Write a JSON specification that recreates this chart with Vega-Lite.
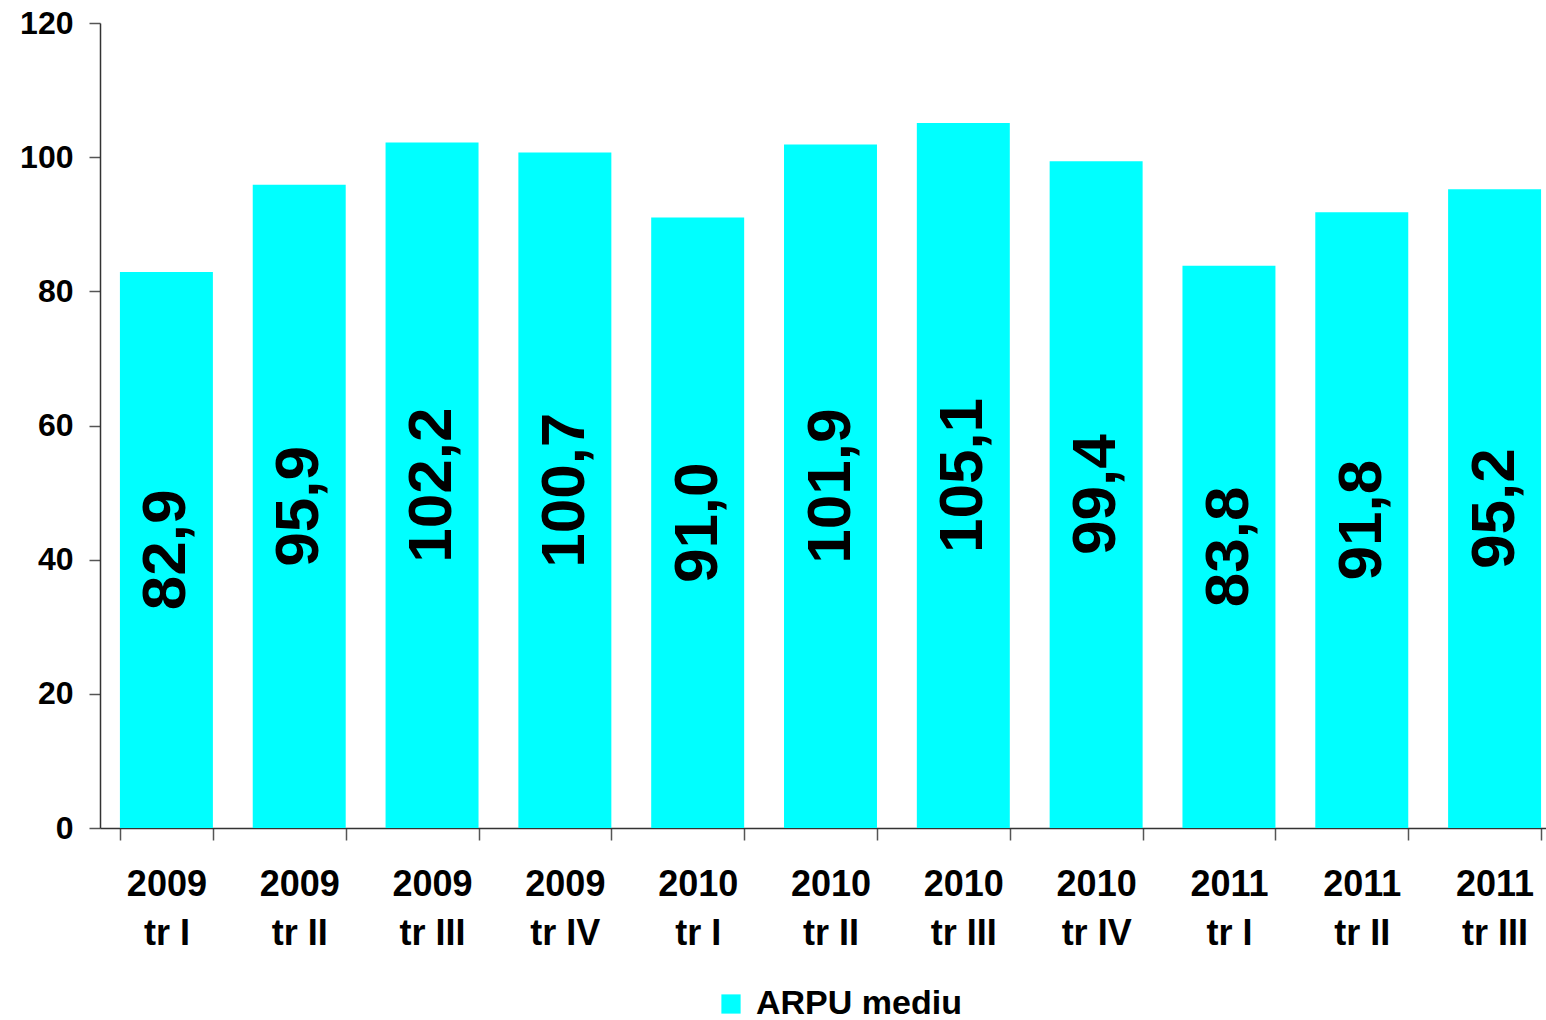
{
  "$schema": "https://vega.github.io/schema/vega-lite/v6.json",
  "autosize": "none",
  "width": 1446,
  "height": 805,
  "padding": {"left": 100, "top": 23, "right": 0, "bottom": 192},
  "background": "white",
  "config": {"view": {"stroke": null}, "font": "Liberation Sans"},
  "data": {"values": [
    {"q": "2009|tr I", "v": 82.9, "s": "ARPU mediu"},
    {"q": "2009|tr II", "v": 95.9, "s": "ARPU mediu"},
    {"q": "2009|tr III", "v": 102.2, "s": "ARPU mediu"},
    {"q": "2009|tr IV", "v": 100.7, "s": "ARPU mediu"},
    {"q": "2010|tr I", "v": 91.0, "s": "ARPU mediu"},
    {"q": "2010|tr II", "v": 101.9, "s": "ARPU mediu"},
    {"q": "2010|tr III", "v": 105.1, "s": "ARPU mediu"},
    {"q": "2010|tr IV", "v": 99.4, "s": "ARPU mediu"},
    {"q": "2011|tr I", "v": 83.8, "s": "ARPU mediu"},
    {"q": "2011|tr II", "v": 91.8, "s": "ARPU mediu"},
    {"q": "2011|tr III", "v": 95.2, "s": "ARPU mediu"}
  ]},
  "encoding": {
    "x": {"field": "q", "type": "nominal", "sort": null,
      "scale": {"paddingInner": 0.3, "paddingOuter": 0.15, "range": [0, 1461]},
      "axis": {"title": null, "labelAngle": 0, "tickBand": "extent",
        "labelExpr": "split(datum.label, '|')",
        "labelFont": "Liberation Sans", "labelFontWeight": "bold", "labelFontSize": 36,
        "labelColor": "black", "labelLineHeight": 49, "labelPadding": 27,
        "domainColor": "#333", "domainWidth": 1.5, "tickColor": "#555", "tickWidth": 1.5, "tickSize": 12}
    }
  },
  "layer": [
    {
      "mark": {"type": "bar", "color": "#00FFFF"},
      "encoding": {
        "y": {"field": "v", "type": "quantitative",
          "scale": {"domain": [0, 120], "nice": false},
          "axis": {"title": null, "values": [0, 20, 40, 60, 80, 100, 120], "grid": false,
            "labelFont": "Liberation Sans", "labelFontWeight": "bold", "labelFontSize": 32,
            "labelColor": "black", "labelPadding": 16,
            "domainColor": "#333", "domainWidth": 1.5, "tickColor": "#555", "tickWidth": 1.5, "tickSize": 11}
        },
        "color": {"field": "s", "type": "nominal",
          "scale": {"range": ["#00FFFF"]},
          "legend": {"title": null, "orient": "none", "legendX": 614, "legendY": 964,
            "symbolType": "square", "symbolSize": 370, "symbolStrokeWidth": 0,
            "labelFont": "Liberation Sans", "labelFontWeight": "bold", "labelFontSize": 34,
            "labelColor": "black", "labelOffset": 8, "labelLimit": 0}
        }
      }
    },
    {
      "transform": [{"calculate": "datum.v / 2", "as": "mid"}],
      "mark": {"type": "text", "angle": 270, "font": "Liberation Sans", "fontWeight": "bold",
        "fontSize": 62, "color": "black", "align": "center", "baseline": "middle",
        "text": {"expr": "replace(format(datum.v, '.1f'), '.', ',')"}},
      "encoding": {
        "y": {"field": "mid", "type": "quantitative"}
      }
    }
  ]
}
